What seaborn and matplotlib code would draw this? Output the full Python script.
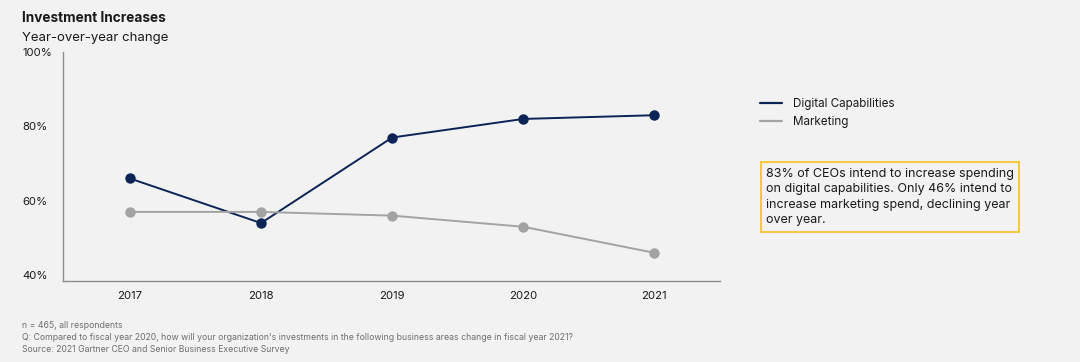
import matplotlib
matplotlib.use("Agg")
import matplotlib.pyplot as plt
import pandas as pd
import seaborn as sns
from matplotlib.lines import Line2D

years = [2017, 2018, 2019, 2020, 2021]
digital = [66, 54, 77, 82, 83]
marketing = [57, 57, 56, 53, 46]
series_names = ["Digital Capabilities", "Marketing"]
y_ticks = [40, 60, 80, 100]

df = pd.DataFrame({
    "year": years * 2,
    "value": digital + marketing,
    "series": [series_names[0]] * len(years) + [series_names[1]] * len(years),
})

bg = "#F2F2F2"
navy = "#0B2455"
grey = "#A3A3A3"
text_col = "#1A1A1A"

sns.set_theme(style="white")
plt.rcParams["font.family"] = ["Inter", "DejaVu Sans"]

fig = plt.figure(figsize=(10.8, 3.62), dpi=100, facecolor=bg)
ax = fig.add_axes([63 / 1080, 1 - 280.7 / 362, (720 - 63) / 1080, (280.7 - 52) / 362])
ax.set_facecolor(bg)

sns.lineplot(data=df, x="year", y="value", hue="series",
             palette={series_names[0]: navy, series_names[1]: grey},
             marker="o", markersize=7.5, markeredgewidth=0, linewidth=1.4,
             legend=False, ax=ax)

ax.set_xlim(2016.49, 2021.5)
ax.set_ylim(38.5, 100)
ax.set_xticks(years)
ax.set_xticklabels([str(y) for y in years])
ax.set_yticks(y_ticks)
ax.set_yticklabels([f"{v}%" for v in y_ticks])
ax.set_xlabel("")
ax.set_ylabel("")

for s in ["top", "right"]:
    ax.spines[s].set_visible(False)
for s in ["left", "bottom"]:
    ax.spines[s].set_color("#8C8C8C")
    ax.spines[s].set_linewidth(1.0)

ax.tick_params(axis="both", length=0, labelsize=8.2, labelcolor=text_col)
ax.tick_params(axis="y", pad=29.5)
ax.tick_params(axis="x", pad=7.5)
for lab in ax.get_yticklabels():
    lab.set_horizontalalignment("left")

# titles
fig.text(22 / 1080, 1 - 18 / 362, "Investment Increases", fontsize=9.8,
         fontweight="bold", color=text_col, va="center", ha="left")
fig.text(22 / 1080, 1 - 38 / 362, "Year-over-year change", fontsize=9.5,
         color=text_col, va="center", ha="left")

# legend
handles = [Line2D([], [], color=navy, linewidth=1.6),
           Line2D([], [], color=grey, linewidth=1.6)]
fig.legend(handles, series_names, loc="upper left",
           bbox_to_anchor=(749 / 1080, 1 - 88 / 362), frameon=False,
           fontsize=8.4, handlelength=1.9, handletextpad=1.0,
           labelspacing=0.45, labelcolor=text_col)

# call-out box
fig.text(766 / 1080, 1 - 197 / 362,
         "83% of CEOs intend to increase spending\n"
         "on digital capabilities. Only 46% intend to\n"
         "increase marketing spend, declining year\n"
         "over year.",
         fontsize=9.0, color=text_col, va="center", ha="left", linespacing=1.4,
         bbox=dict(boxstyle="square,pad=0.42", facecolor=bg,
                   edgecolor="#F5C332", linewidth=1.3))

# footnotes
notes = ["n = 465, all respondents",
         "Q: Compared to fiscal year 2020, how will your organization's investments in the following business areas change in fiscal year 2021?",
         "Source: 2021 Gartner CEO and Senior Business Executive Survey"]
for i, n in enumerate(notes):
    fig.text(22 / 1080, 1 - (325 + i * 12.5) / 362, n, fontsize=6.25,
             color="#6E6E6E", va="center", ha="left")

fig.savefig("out.png", dpi=100, facecolor=bg)
